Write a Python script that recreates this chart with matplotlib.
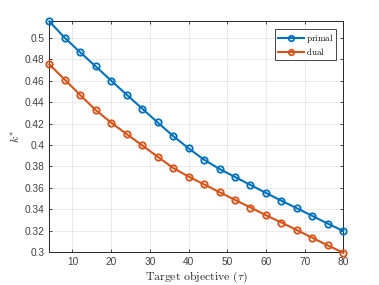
import matplotlib
matplotlib.use("Agg")
import matplotlib.pyplot as plt
from matplotlib.ticker import FormatStrFormatter

tau = [4, 8, 12, 16, 20, 24, 28, 32, 36, 40, 44, 48, 52, 56, 60, 64, 68, 72, 76, 80]
primal = [0.5153, 0.500, 0.4864, 0.4733, 0.460, 0.4469, 0.434, 0.4211, 0.4084, 0.3969,
          0.3863, 0.3776, 0.3702, 0.3627, 0.3553, 0.348, 0.341, 0.3338, 0.3266, 0.3198]
dual = [0.4752, 0.461, 0.4466, 0.4326, 0.4208, 0.4102, 0.3997, 0.3891, 0.3786, 0.3705,
        0.3633, 0.356, 0.3488, 0.3417, 0.3345, 0.3277, 0.3206, 0.3134, 0.3063, 0.2995]
xticks = [10, 20, 30, 40, 50, 60, 70, 80]
yticks = [0.3, 0.32, 0.34, 0.36, 0.38, 0.4, 0.42, 0.44, 0.46, 0.48, 0.5]

plt.rcParams["mathtext.fontset"] = "cm"
plt.rcParams["font.family"] = ["Liberation Sans", "DejaVu Sans"]

fig = plt.figure(figsize=(3.79, 2.85), dpi=100)
ax = fig.add_axes([0.130, 0.115, 0.776, 0.810])

ax.plot(tau, primal, "-o", color="#0072BD", lw=1.5, ms=4.6, mew=1.3,
        mfc="none", label=r"$\mathrm{primal}$", clip_on=False, zorder=3)
ax.plot(tau, dual, "-o", color="#D95319", lw=1.5, ms=4.6, mew=1.3,
        mfc="none", label=r"$\mathrm{dual}$", clip_on=False, zorder=3)

ax.set_xlim(4, 80)
ax.set_ylim(0.3, 0.5153)
ax.set_xticks(xticks)
ax.set_yticks(yticks)
ax.yaxis.set_major_formatter(FormatStrFormatter("%g"))
ax.tick_params(direction="in", labelsize=7.3, length=2.5, width=0.6,
               color="#262626", labelcolor="#404040", top=True, right=True)
for s in ax.spines.values():
    s.set_linewidth(0.7)
    s.set_color("#262626")
ax.grid(True, color="#e6e6e6", lw=0.6)
ax.set_axisbelow(True)

ax.set_xlabel(r"$\mathrm{Target\ objective\ }(\tau)$", fontsize=8.5, labelpad=2,
              color="#262626")
ax.set_ylabel(r"$k^{*}$", fontsize=8.5, labelpad=2, color="#262626")

leg = ax.legend(loc="upper right", fontsize=6.5, fancybox=False, framealpha=1,
                edgecolor="#262626", handlelength=2.9, borderpad=0.3,
                labelspacing=0.15, handletextpad=0.2, borderaxespad=0.85,
                markerscale=0.85)
leg.get_frame().set_linewidth(0.6)

fig.savefig("out.png", dpi=100)
